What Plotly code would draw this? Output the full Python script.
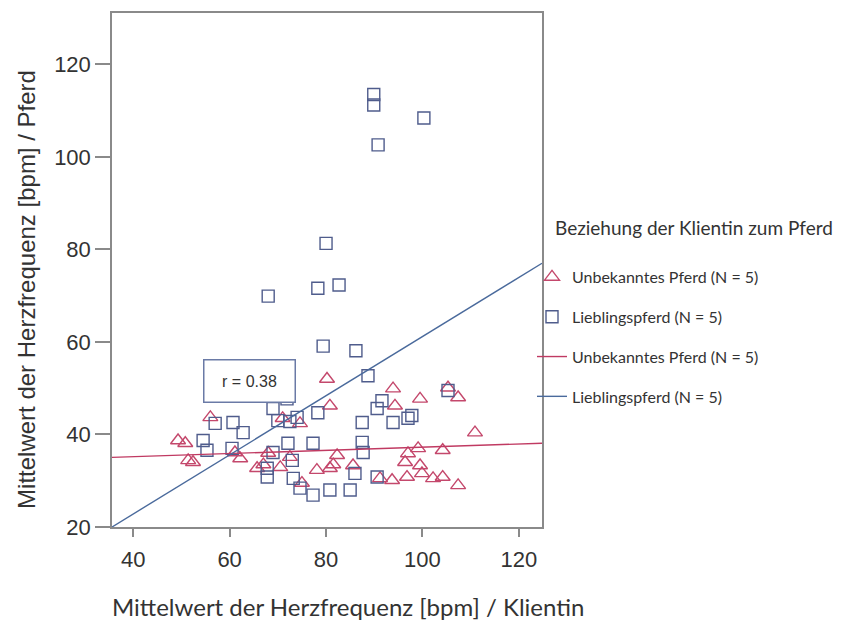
import plotly.graph_objects as go

# ---- data ----
fav_x = [89.9, 89.9, 90.8, 100.3, 80.0, 68.0, 78.3, 82.7, 79.4, 86.2, 88.7, 71.9, 69.0, 74.0, 78.3,
         60.7, 57.0, 62.8, 54.5, 55.3, 60.5, 69.0, 72.1, 77.3, 73.0, 87.5, 87.7, 67.8, 67.8, 73.2,
         74.6, 77.3, 80.8, 85.0, 86.0, 90.6, 87.5, 90.6, 91.6, 93.9, 97.8, 97.0, 105.3, 70.0, 72.5]
fav_y = [113.5, 111.2, 102.6, 108.4, 81.3, 69.9, 71.6, 72.3, 59.1, 58.1, 52.7, 47.7, 45.6, 43.7, 44.7,
         42.6, 42.4, 40.4, 38.7, 36.6, 37.0, 36.1, 38.1, 38.1, 34.4, 38.3, 36.1, 32.7, 30.8, 30.5,
         28.4, 26.9, 28.0, 28.0, 31.6, 30.8, 42.6, 45.6, 47.3, 42.6, 44.1, 43.5, 49.5, 43.0, 42.8]

unk_x = [80.2, 93.9, 99.5, 105.3, 107.4, 94.3, 80.8, 56.0, 74.6, 110.9, 49.3, 50.8, 51.4, 52.4,
         61.1, 62.2, 65.7, 70.5, 72.5, 78.1, 80.8, 82.3, 81.5, 85.6, 91.2, 93.7, 96.8, 97.0, 99.1,
         99.5, 102.2, 104.2, 104.2, 107.4, 99.9, 96.4, 68.0, 71.0, 75.0, 67.0]
unk_y = [52.0, 49.9, 47.7, 50.1, 48.0, 46.2, 46.2, 43.7, 42.4, 40.4, 38.7, 38.1, 34.4, 34.0,
         36.1, 34.8, 32.7, 32.9, 35.1, 32.3, 32.7, 35.5, 33.5, 33.3, 30.5, 30.1, 30.8, 35.9, 37.0,
         33.3, 30.5, 30.8, 36.6, 29.0, 31.6, 34.0, 36.0, 43.5, 29.5, 33.5]

# fit lines (intercept, slope) and x extent
fit_x = [35.6, 124.8]
unk_fit = (33.83, 0.0342)
fav_fit = (-2.75, 0.639)
r_label = "r = 0.38"

legend_title = "Beziehung der Klientin zum Pferd"
names = ["Unbekanntes Pferd (N = 5)", "Lieblingspferd (N = 5)"]
x_title = "Mittelwert der Herzfrequenz [bpm] / Klientin"
y_title = "Mittelwert der Herzfrequenz [bpm] / Pferd"
x_ticks = [40, 60, 80, 100, 120]
y_ticks = [20, 40, 60, 80, 100, 120]

RED = "#c4486c"
BLUE = "#4f5c8c"
RED_L = "#c03a62"
BLUE_L = "#4a6a9c"


def px(x):
    return (x - 112) / 430


def py(y):
    return (527 - y) / 516


fig = go.Figure()
fig.add_trace(go.Scatter(x=unk_x, y=unk_y, mode="markers", name=names[0], legendgroup="a",
                         marker=dict(symbol="triangle-up-open", size=13, color=RED, line=dict(width=1.4))))
fig.add_trace(go.Scatter(x=fav_x, y=fav_y, mode="markers", name=names[1], legendgroup="b",
                         marker=dict(symbol="square-open", size=12, color=BLUE, line=dict(width=1.4))))
fig.add_trace(go.Scatter(x=fit_x, y=[unk_fit[0] + unk_fit[1] * v for v in fit_x], mode="lines",
                         name=names[0], legendgroup="c", line=dict(color=RED_L, width=1.4)))
fig.add_trace(go.Scatter(x=fit_x, y=[fav_fit[0] + fav_fit[1] * v for v in fit_x], mode="lines",
                         name=names[1], legendgroup="d", line=dict(color=BLUE_L, width=1.4)))

axis_common = dict(showline=True, mirror=True, linecolor="#8a8a8a", linewidth=1.5,
                   showgrid=False, zeroline=False, ticks="outside", tickcolor="#8a8a8a",
                   tickwidth=1.5, tickfont=dict(family="Liberation Sans, Arial", size=22, color="#333"))
fig.update_xaxes(range=[35.6, 124.8], tickvals=x_ticks, ticklen=8, ticklabelstandoff=4, **axis_common)
fig.update_yaxes(range=[20, 131.1], tickvals=y_ticks, ticklen=15, **axis_common)

fig.add_annotation(x=64.2, y=51.6, xref="x", yref="y", text=r_label, showarrow=False,
                   font=dict(family="Liberation Sans, Arial", size=16, color="#333"),
                   bordercolor="#6a7aa6", borderwidth=1.5, width=88, height=39, bgcolor="white")
fig.add_annotation(x=px(348), y=py(607), xref="paper", yref="paper", xanchor="center", yanchor="middle",
                   text=x_title, showarrow=False,
                   font=dict(family="Lato, Open Sans", size=24, color="#333"))
fig.add_annotation(x=px(27), y=py(289), xref="paper", yref="paper", xanchor="center", yanchor="middle",
                   text=y_title, showarrow=False, textangle=-90,
                   font=dict(family="Liberation Sans, Arial", size=24, color="#333"))
fig.add_annotation(x=px(553), y=py(226), xref="paper", yref="paper",
                   xanchor="left", yanchor="middle", text=legend_title, showarrow=False,
                   font=dict(family="Lato, Open Sans", size=19, color="#333"))

fig.update_layout(
    width=841, height=624,
    margin=dict(l=104, r=307, t=3, b=105),
    paper_bgcolor="white", plot_bgcolor="white",
    legend=dict(x=px(532), y=py(259), xanchor="left", yanchor="top",
                font=dict(family="Lato, Open Sans", size=16, color="#333"),
                tracegroupgap=16, bgcolor="rgba(0,0,0,0)"),
)

fig.write_html("out.html")
